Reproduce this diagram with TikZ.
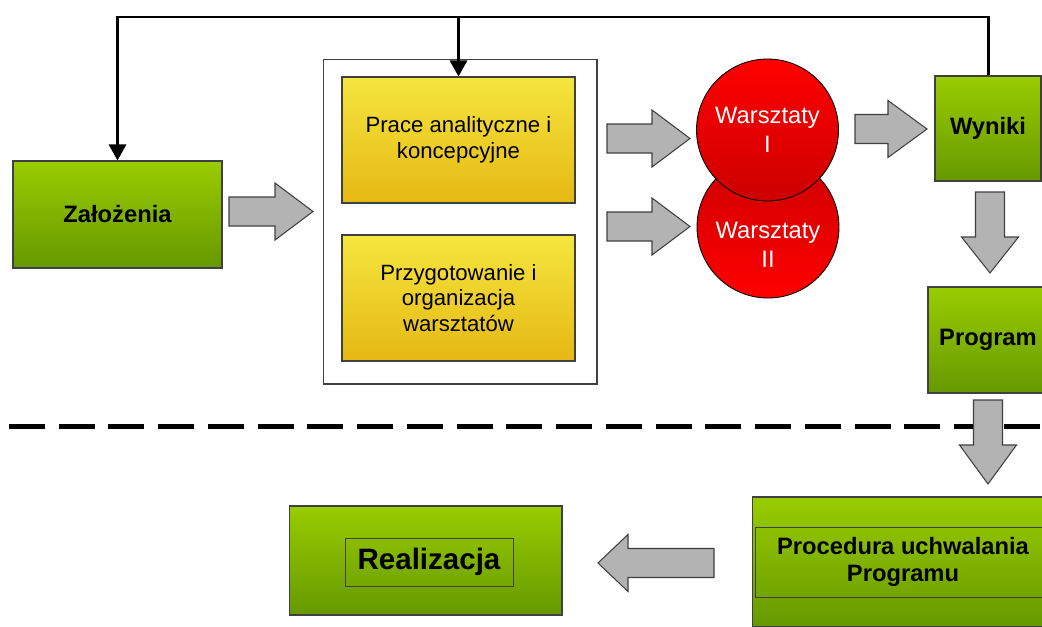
\documentclass[tikz,border=0pt]{standalone}
\usepackage{fontspec}
\setmainfont{Liberation Sans}
\usetikzlibrary{arrows.meta}

\definecolor{greentop}{HTML}{99CC00}
\definecolor{greenbot}{HTML}{669900}
\definecolor{yellowtop}{HTML}{F5E63F}
\definecolor{yellowbot}{HTML}{E6B813}
\definecolor{redtop}{HTML}{FF0000}
\definecolor{redbot}{HTML}{CC0000}
\definecolor{arrowgray}{HTML}{B3B3B3}
\definecolor{edgegray}{HTML}{404040}

\tikzstyle{greenbox}=[rectangle,draw=edgegray,line width=0.6pt,top color=greentop,bottom color=greenbot,align=center,font=\fontsize{13.5}{15.3}\selectfont\bfseries]
\tikzstyle{yellowbox}=[rectangle,draw=edgegray,line width=0.6pt,top color=yellowtop,bottom color=yellowbot,align=center,minimum width=4.66cm,minimum height=2.52cm,font=\fontsize{12.6}{14.7}\selectfont]
\tikzstyle{workshop}=[circle,draw=black,line width=0.5pt,minimum size=2.84cm,inner sep=0pt,align=center,text=white,font=\fontsize{13.5}{16.4}\selectfont]
\tikzstyle{innerframe}=[rectangle,draw=edgegray,line width=0.5pt,align=center]
\tikzstyle{feedback}=[line width=1.7pt,-{Triangle[length=0.32cm,width=0.34cm]}]
\tikzstyle{divider}=[line width=0.1cm,dash pattern=on 0.72cm off 0.275cm]
\tikzstyle{grayarrow}=[fill=arrowgray,draw=edgegray,line width=0.6pt]

% x, y, rotation, length, start of head
\newcommand{\blockarrow}[5]{\draw[grayarrow,shift={(#1,#2)},rotate=#3] (0,-14.5) -- (#5,-14.5) -- (#5,-28.5) -- (#4,0) -- (#5,28.5) -- (#5,14.5) -- (0,14.5) -- cycle;}

\begin{document}
\begin{tikzpicture}[x=0.02cm,y=-0.02cm]
	\useasboundingbox (0,0) rectangle (1042,626);
	\clip (0,0) rectangle (1042,626);
	%Adding the upper boxes
	\node[greenbox,minimum width=4.18cm,minimum height=2.14cm] (zal) at (117.5,214.5) {Założenia};
	\node[rectangle,draw=edgegray,line width=0.6pt,minimum width=5.48cm,minimum height=6.5cm] (frame) at (460,221.5) {};
	\node[yellowbox] (prace) at (458.5,140) {Prace analityczne i\\koncepcyjne};
	\node[yellowbox] (przyg) at (458.5,298) {Przygotowanie i\\organizacja\\warsztatów};
	\node[workshop,top color=redbot,bottom color=redtop] (wII) at (768,227) {};
	\node[align=center,text=white,font=\fontsize{13.5}{16.4}\selectfont] (wIItext) at ([yshift=-0.36cm]wII.center) {Warsztaty\\II};
	\node[workshop,top color=redtop,bottom color=redbot] (wI) at (767.5,130) {Warsztaty\\I};
	\node[greenbox,minimum width=2.12cm,minimum height=2.1cm] (wyn) at (988,128.5) {Wyniki};
	\node[greenbox,minimum width=2.4cm,minimum height=2.12cm] (prog) at (988,340) {Program};
	%Adding the lower boxes
	\node[greenbox,minimum width=6.04cm,minimum height=2.6cm] (proc) at (903,562) {};
	\node[innerframe,minimum width=5.92cm,minimum height=1.4cm,font=\fontsize{13.5}{15.3}\selectfont\bfseries] (proctext) at (proc.center) {Procedura uchwalania\\Programu};
	\node[greenbox,minimum width=5.46cm,minimum height=2.18cm] (real) at (425.5,560.5) {};
	\node[innerframe,minimum width=3.36cm,minimum height=0.96cm,font=\fontsize{16.8}{18}\selectfont\bfseries] (realtext) at (429,562) {Realizacja};
	%Adding the dashed divider
	\coordinate (dashL) at (9,426.5);
	\coordinate (dashR) at (1042,426.5);
	\draw[divider] (dashL) -- (dashR);
	%Adding the gray block arrows
	\foreach \x/\y/\rot/\len/\head in {229/211.5/0/84/46, 607/138.5/0/83/45, 607/226.5/0/83/45,
									855/129/0/72/33, 990/192/-90/81/45, 988/400/-90/84/45,
									714/563/180/116/86}
	\blockarrow{\x}{\y}{\rot}{\len}{\head}
	%Adding the feedback line
	\coordinate (top) at (0,17);
	\draw[feedback] (wyn.north) -- (wyn.north |- top) -| (zal.north);
	\draw[feedback] (prace.north |- top) -- (prace.north);
\end{tikzpicture}
\end{document}
